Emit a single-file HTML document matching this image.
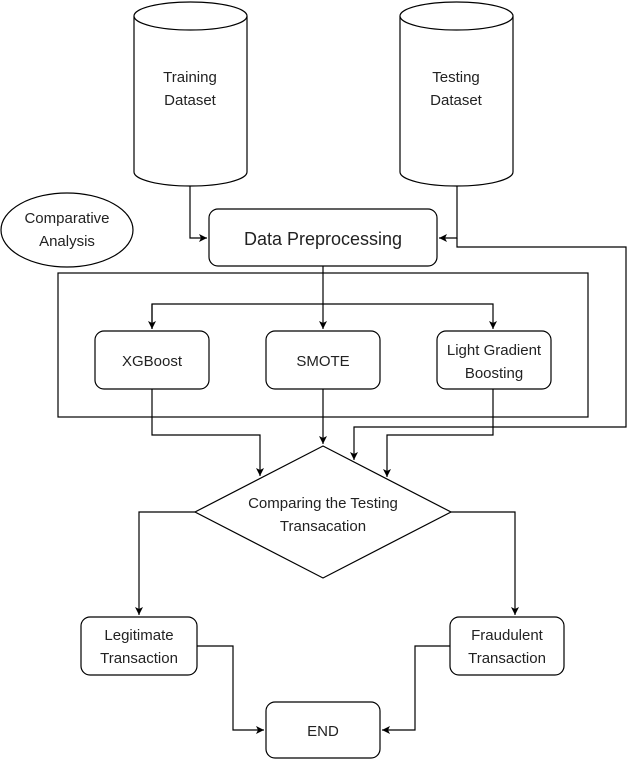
<!DOCTYPE html>
<html><head><style>body{margin:0;background:#fff}svg{display:block}text{font-family:"Liberation Sans",Arial,sans-serif;fill:#222}</style></head>
<body>
<svg width="634" height="760" viewBox="0 0 634 760" xmlns="http://www.w3.org/2000/svg">
<defs><marker id="a" markerWidth="10" markerHeight="10" refX="8" refY="4" orient="auto" markerUnits="userSpaceOnUse"><path d="M0,0 L8,4 L0,8 L2,4 z" fill="#000"/></marker></defs>
<g fill="#fff" stroke="#000" stroke-width="1.2">
<path d="M134,16 L134,172 A56.5,14 0 0 0 247,172 L247,16"/>
<ellipse cx="190.5" cy="16" rx="56.5" ry="14"/>
<path d="M400,16 L400,172 A56.5,14 0 0 0 513,172 L513,16"/>
<ellipse cx="456.5" cy="16" rx="56.5" ry="14"/>
<ellipse cx="67" cy="230" rx="66" ry="37"/>
<rect x="209" y="209" width="228" height="57" rx="9"/>
<rect x="58" y="273" width="530" height="144"/>
<rect x="95" y="331" width="114" height="58" rx="9"/>
<rect x="266" y="331" width="114" height="58" rx="9"/>
<rect x="437" y="331" width="114" height="58" rx="9"/>
<path d="M323,446 L451,512 L323,578 L195,512 Z"/>
<rect x="81" y="617" width="116" height="58" rx="9"/>
<rect x="450" y="617" width="114" height="58" rx="9"/>
<rect x="266" y="702" width="114" height="56" rx="9"/>
</g>
<g fill="none" stroke="#000" stroke-width="1.2">
<path d="M190,186 V238 H207" marker-end="url(#a)"/>
<path d="M457,186 V238 H439" marker-end="url(#a)"/>
<path d="M457,238 V247 H626 V427 H354 V460" marker-end="url(#a)"/>
<path d="M323,266 V329" marker-end="url(#a)"/>
<path d="M152,329 V304 H493 V329" marker-end="url(#a)"/>
<path d="M152,304 V329" marker-end="url(#a)"/>
<path d="M152,389 V435 H260 V476" marker-end="url(#a)"/>
<path d="M323,389 V444" marker-end="url(#a)"/>
<path d="M493,389 V435 H387 V477" marker-end="url(#a)"/>
<path d="M195,512 H139 V615" marker-end="url(#a)"/>
<path d="M451,512 H515 V615" marker-end="url(#a)"/>
<path d="M197,646 H233 V730 H264" marker-end="url(#a)"/>
<path d="M450,646 H415 V730 H382" marker-end="url(#a)"/>
</g>
<g font-size="15" text-anchor="middle">
<text x="190" y="82">Training</text><text x="190" y="105">Dataset</text>
<text x="456" y="82">Testing</text><text x="456" y="105">Dataset</text>
<text x="67" y="223">Comparative</text><text x="67" y="246">Analysis</text>
<text x="323" y="245" font-size="18">Data Preprocessing</text>
<text x="152" y="366">XGBoost</text>
<text x="323" y="366">SMOTE</text>
<text x="494" y="355">Light Gradient</text><text x="494" y="378">Boosting</text>
<text x="323" y="508">Comparing the Testing</text><text x="323" y="531">Transacation</text>
<text x="139" y="640">Legitimate</text><text x="139" y="663">Transaction</text>
<text x="507" y="640">Fraudulent</text><text x="507" y="663">Transaction</text>
<text x="323" y="736">END</text>
</g>
</svg>
</body></html>
